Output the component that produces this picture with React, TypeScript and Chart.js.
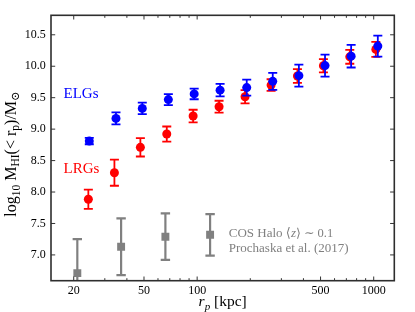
import React, { useEffect, useRef } from 'react';
import { Chart, registerables } from 'chart.js';

Chart.register(...registerables);

// ---- data ----
const elgX = [24.5, 34.7, 48.9, 68.7, 96.2, 134.9, 190.9, 268, 376.8, 530, 745, 1055];
const elgY = [8.81, 9.17, 9.33, 9.47, 9.56, 9.62, 9.66, 9.76, 9.85, 10.01, 10.16, 10.32];
const elgErr = [0.05, 0.095, 0.09, 0.087, 0.085, 0.1, 0.127, 0.135, 0.175, 0.175, 0.18, 0.167];

const lrgX = [24.2, 34.0, 47.7, 67.3, 94.9, 133.1, 186.8, 262.3, 369.8, 519, 732, 1028];
const lrgY = [7.885, 8.307, 8.711, 8.922, 9.208, 9.356, 9.515, 9.7, 9.844, 10.007, 10.15, 10.268];
const lrgErr = [0.154, 0.207, 0.146, 0.12, 0.1, 0.095, 0.106, 0.093, 0.11, 0.106, 0.11, 0.12];

const cosX = [20.96, 37.1, 66.1, 118.4];
const cosY = [6.71, 7.13, 7.29, 7.32];
const cosErr = [0.54, 0.45, 0.37, 0.33];

const xLabelTicks = [20, 50, 100, 500, 1000];
const xMinorTicks = [30, 40, 60, 70, 80, 90, 200, 300, 400, 600, 700, 800, 900];
const yTicks = [7.0, 7.5, 8.0, 8.5, 9.0, 9.5, 10.0, 10.5];

const X_MIN = 14.87;
const X_MAX = 1308;
const Y_MIN = 6.59;
const Y_MAX = 10.81;

const SERIF = '"Liberation Serif", "DejaVu Serif", serif';
const BLUE = '#0000ff';
const RED = '#ff0000';
const GRAY = '#808080';

const errSets = [
  { err: cosErr, color: GRAY, lw: 2.2, cap: 4.7 },
  { err: lrgErr, color: RED, lw: 1.8, cap: 4.5 },
  { err: elgErr, color: BLUE, lw: 1.8, cap: 4.5 },
];

type Run = { t: string; s: number; it?: boolean; dy?: number };

function font(r: Run) {
  return `${r.it ? 'italic ' : ''}${r.s}px ${SERIF}`;
}

function runsWidth(ctx: CanvasRenderingContext2D, runs: Run[]) {
  let w = 0;
  for (const r of runs) {
    ctx.font = font(r);
    w += ctx.measureText(r.t).width;
  }
  return w;
}

function drawRuns(ctx: CanvasRenderingContext2D, runs: Run[], x: number, y: number) {
  let cx = x;
  for (const r of runs) {
    ctx.font = font(r);
    ctx.fillText(r.t, cx, y + (r.dy || 0));
    cx += ctx.measureText(r.t).width;
  }
}

const errorBarPlugin = {
  id: 'errorBars',
  beforeDatasetDraw(chart: any, args: any) {
    const set = errSets[args.index];
    if (!set) return;
    const ds = chart.data.datasets[args.index];
    const xs = chart.scales.x;
    const ys = chart.scales.y;
    const ctx = chart.ctx as CanvasRenderingContext2D;
    const a = chart.chartArea;
    ctx.save();
    ctx.beginPath();
    ctx.rect(a.left, a.top, a.right - a.left, a.bottom - a.top);
    ctx.clip();
    ctx.strokeStyle = set.color;
    ctx.lineWidth = set.lw;
    ds.data.forEach((p: any, i: number) => {
      const e = set.err[i];
      const px = xs.getPixelForValue(p.x);
      const yt = ys.getPixelForValue(p.y + e);
      const yb = ys.getPixelForValue(p.y - e);
      ctx.beginPath();
      ctx.moveTo(px, yt);
      ctx.lineTo(px, yb);
      ctx.moveTo(px - set.cap, yt);
      ctx.lineTo(px + set.cap, yt);
      ctx.moveTo(px - set.cap, yb);
      ctx.lineTo(px + set.cap, yb);
      ctx.stroke();
    });
    ctx.restore();
  },
};

const framePlugin = {
  id: 'frameTicks',
  afterDatasetsDraw(chart: any) {
    const ctx = chart.ctx as CanvasRenderingContext2D;
    const a = chart.chartArea;
    const xs = chart.scales.x;
    const ys = chart.scales.y;
    ctx.save();
    ctx.strokeStyle = '#333333';
    ctx.lineWidth = 1;
    const major = 4.2;
    const minor = 2.5;
    ctx.beginPath();
    for (const v of xLabelTicks) {
      const px = xs.getPixelForValue(v);
      ctx.moveTo(px, a.bottom); ctx.lineTo(px, a.bottom - major);
      ctx.moveTo(px, a.top); ctx.lineTo(px, a.top + major);
    }
    for (const v of xMinorTicks) {
      const px = xs.getPixelForValue(v);
      ctx.moveTo(px, a.bottom); ctx.lineTo(px, a.bottom - minor);
      ctx.moveTo(px, a.top); ctx.lineTo(px, a.top + minor);
    }
    for (const v of yTicks) {
      const py = ys.getPixelForValue(v);
      ctx.moveTo(a.left, py); ctx.lineTo(a.left + major, py);
      ctx.moveTo(a.right, py); ctx.lineTo(a.right - major, py);
    }
    ctx.stroke();
    ctx.lineWidth = 1.6;
    ctx.strokeStyle = '#2e2e2e';
    ctx.strokeRect(a.left, a.top, a.right - a.left, a.bottom - a.top);
    ctx.restore();
  },
};

const textPlugin = {
  id: 'texts',
  afterDraw(chart: any) {
    const ctx = chart.ctx as CanvasRenderingContext2D;
    const a = chart.chartArea;
    const xs = chart.scales.x;
    const ys = chart.scales.y;
    ctx.save();
    ctx.textBaseline = 'alphabetic';
    ctx.textAlign = 'left';

    // series labels
    ctx.fillStyle = BLUE;
    ctx.font = `15px ${SERIF}`;
    ctx.fillText('ELGs', xs.getPixelForValue(17.5), ys.getPixelForValue(9.5));
    ctx.fillStyle = RED;
    ctx.fillText('LRGs', xs.getPixelForValue(17.5), ys.getPixelForValue(8.31));

    // COS Halo annotation
    ctx.fillStyle = GRAY;
    const cx = xs.getPixelForValue(151);
    drawRuns(ctx, [
      { t: 'COS Halo ', s: 13 },
      { t: '\u27e8', s: 13 },
      { t: 'z', s: 13, it: true },
      { t: '\u27e9 \u223c 0.1', s: 12.5 },
    ], cx, ys.getPixelForValue(7.284));
    drawRuns(ctx, [{ t: 'Prochaska et al. (2017)', s: 13 }], cx, ys.getPixelForValue(7.046));

    // x title
    ctx.fillStyle = '#000';
    const xRuns: Run[] = [
      { t: 'r', s: 15.5, it: true },
      { t: 'p', s: 11, it: true, dy: 3.5 },
      { t: ' [kpc]', s: 15.5 },
    ];
    const xw = runsWidth(ctx, xRuns);
    drawRuns(ctx, xRuns, (a.left + a.right) / 2 - xw / 2, 306);

    // y title
    const yRuns: Run[] = [
      { t: 'log', s: 16 },
      { t: '10', s: 11.5, dy: 4 },
      { t: ' M', s: 16 },
      { t: 'HI', s: 11.5, dy: 3.5 },
      { t: '(< r', s: 16 },
      { t: 'p', s: 11.5, dy: 3.5 },
      { t: ')/M', s: 16 },
      { t: '\u2299', s: 11.5, dy: 3.5 },
    ];
    const yw = runsWidth(ctx, yRuns);
    ctx.translate(15.5, (a.top + a.bottom) / 2 + 6);
    ctx.rotate(-Math.PI / 2);
    drawRuns(ctx, yRuns, -yw / 2, 0);
    ctx.restore();
  },
};

export default function App() {
  const ref = useRef<HTMLCanvasElement | null>(null);

  useEffect(() => {
    document.body.style.margin = '0';
    const canvas = ref.current;
    if (!canvas) return;
    const mk = (xs: number[], ys: number[]) => xs.map((x, i) => ({ x, y: ys[i] }));
    const chart = new Chart(canvas, {
      type: 'scatter',
      data: {
        datasets: [
          {
            label: 'COS Halo',
            data: mk(cosX, cosY),
            pointStyle: 'rect',
            pointRadius: 5.6,
            pointBorderWidth: 0,
            backgroundColor: GRAY,
            borderColor: GRAY,
            order: 3,
          },
          {
            label: 'LRGs',
            data: mk(lrgX, lrgY),
            pointStyle: 'circle',
            pointRadius: 4.5,
            pointBorderWidth: 0,
            backgroundColor: RED,
            borderColor: RED,
            order: 2,
          },
          {
            label: 'ELGs',
            data: mk(elgX, elgY),
            pointStyle: 'circle',
            pointRadius: 4.5,
            pointBorderWidth: 0,
            backgroundColor: BLUE,
            borderColor: BLUE,
            order: 1,
          },
        ],
      },
      options: {
        responsive: false,
        devicePixelRatio: 1,
        animation: false,
        events: [],
        layout: { padding: { top: 15.3, right: 20.7, left: 0, bottom: 0 } },
        plugins: {
          legend: { display: false },
          tooltip: { enabled: false },
        },
        scales: {
          x: {
            type: 'logarithmic',
            position: 'bottom',
            min: X_MIN,
            max: X_MAX,
            grid: { display: false, drawTicks: false },
            border: { display: false },
            ticks: {
              font: { family: SERIF, size: 12 },
              color: '#000',
              padding: 3,
              maxRotation: 0,
              autoSkip: false,
              callback: (v: any) => String(v),
            },
            afterBuildTicks: (scale: any) => {
              scale.ticks = xLabelTicks.map((v) => ({ value: v }));
            },
            afterFit: (scale: any) => {
              scale.height = 31.3;
            },
          },
          y: {
            type: 'linear',
            position: 'left',
            min: Y_MIN,
            max: Y_MAX,
            grid: { display: false, drawTicks: false },
            border: { display: false },
            ticks: {
              font: { family: SERIF, size: 12 },
              color: '#000',
              padding: 5.3,
              callback: (v: any) => Number(v).toFixed(1),
            },
            afterBuildTicks: (scale: any) => {
              scale.ticks = yTicks.map((v) => ({ value: v }));
            },
            afterFit: (scale: any) => {
              scale.width = 51;
            },
          },
        },
      },
      plugins: [errorBarPlugin, framePlugin, textPlugin],
    } as any);
    return () => chart.destroy();
  }, []);

  return (
    <div style={{ width: 415, height: 312 }}>
      <canvas ref={ref} width={415} height={312} style={{ display: 'block' }} />
    </div>
  );
}
